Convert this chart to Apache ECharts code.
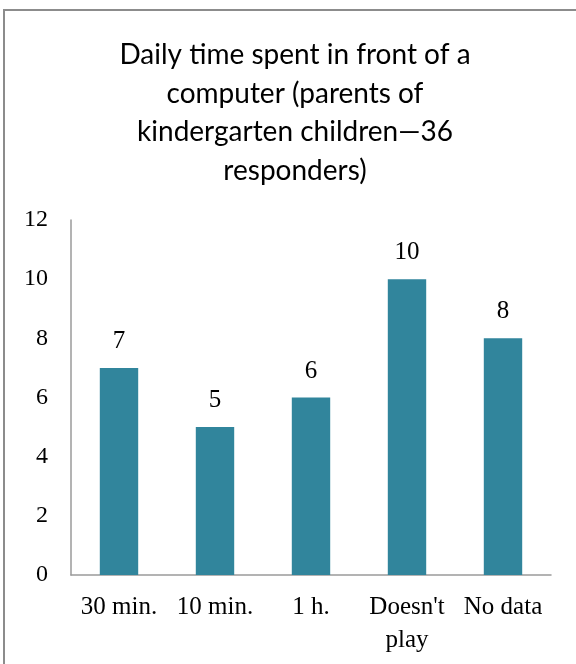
<!DOCTYPE html>
<html>
<head>
<meta charset="utf-8">
<script src="https://cdn.jsdelivr.net/npm/echarts@6/dist/echarts.min.js"></script>
<style>
html,body{margin:0;padding:0;background:#fff;}
#chart{width:576px;height:664px;}
</style>
</head>
<body>
<div id="chart"></div>
<script>
const titleText = "Daily time spent in front of a\ncomputer (parents of\nkindergarten children\u201436\nresponders)";
const categories = ["30 min.", "10 min.", "1 h.", "Doesn't play", "No data"];
const tickLabels = ["30 min.", "10 min.", "1 h.", "Doesn't\nplay", "No data"];
const values = [7, 5, 6, 10, 8];
const yTicks = [0, 2, 4, 6, 8, 10, 12];

const chart = echarts.init(document.getElementById('chart'));
const serif = '"Liberation Serif", "DejaVu Serif", serif';
chart.setOption({
  animation: false,
  backgroundColor: '#fff',
  graphic: [{
    type: 'rect',
    shape: {x: 4, y: 10, width: 800, height: 800},
    style: {fill: 'none', stroke: '#8c8c8c', lineWidth: 2},
    silent: true, z: -1
  }],
  title: {
    text: titleText,
    left: 290,
    textAlign: 'center',
    top: 31,
    textStyle: {
      fontFamily: 'Lato, "Noto Sans", sans-serif',
      fontSize: 28,
      fontWeight: 'normal',
      lineHeight: 38.5,
      color: '#000'
    }
  },
  grid: {left: 71, right: 25, top: 220, bottom: 89, containLabel: false},
  xAxis: {
    type: 'category',
    data: categories,
    axisLine: {show: true, lineStyle: {color: '#9a9a9a', width: 1.5}},
    axisTick: {show: false},
    axisLabel: {
      interval: 0,
      margin: 16,
      fontFamily: serif,
      fontSize: 25,
      lineHeight: 33,
      color: '#000',
      formatter: (v, i) => tickLabels[i]
    }
  },
  yAxis: {
    type: 'value',
    min: yTicks[0],
    max: yTicks[yTicks.length - 1],
    interval: 2,
    axisLine: {show: true, lineStyle: {color: '#9a9a9a', width: 1.5}},
    axisTick: {show: false},
    splitLine: {show: false},
    axisLabel: {
      margin: 23,
      fontFamily: serif,
      fontSize: 24,
      color: '#000'
    }
  },
  series: [{
    type: 'bar',
    data: values,
    barWidth: '40%',
    itemStyle: {color: '#31859C'},
    label: {
      show: true,
      position: 'top',
      distance: 14,
      fontFamily: serif,
      fontSize: 25,
      color: '#000'
    }
  }]
});
</script>
</body>
</html>
